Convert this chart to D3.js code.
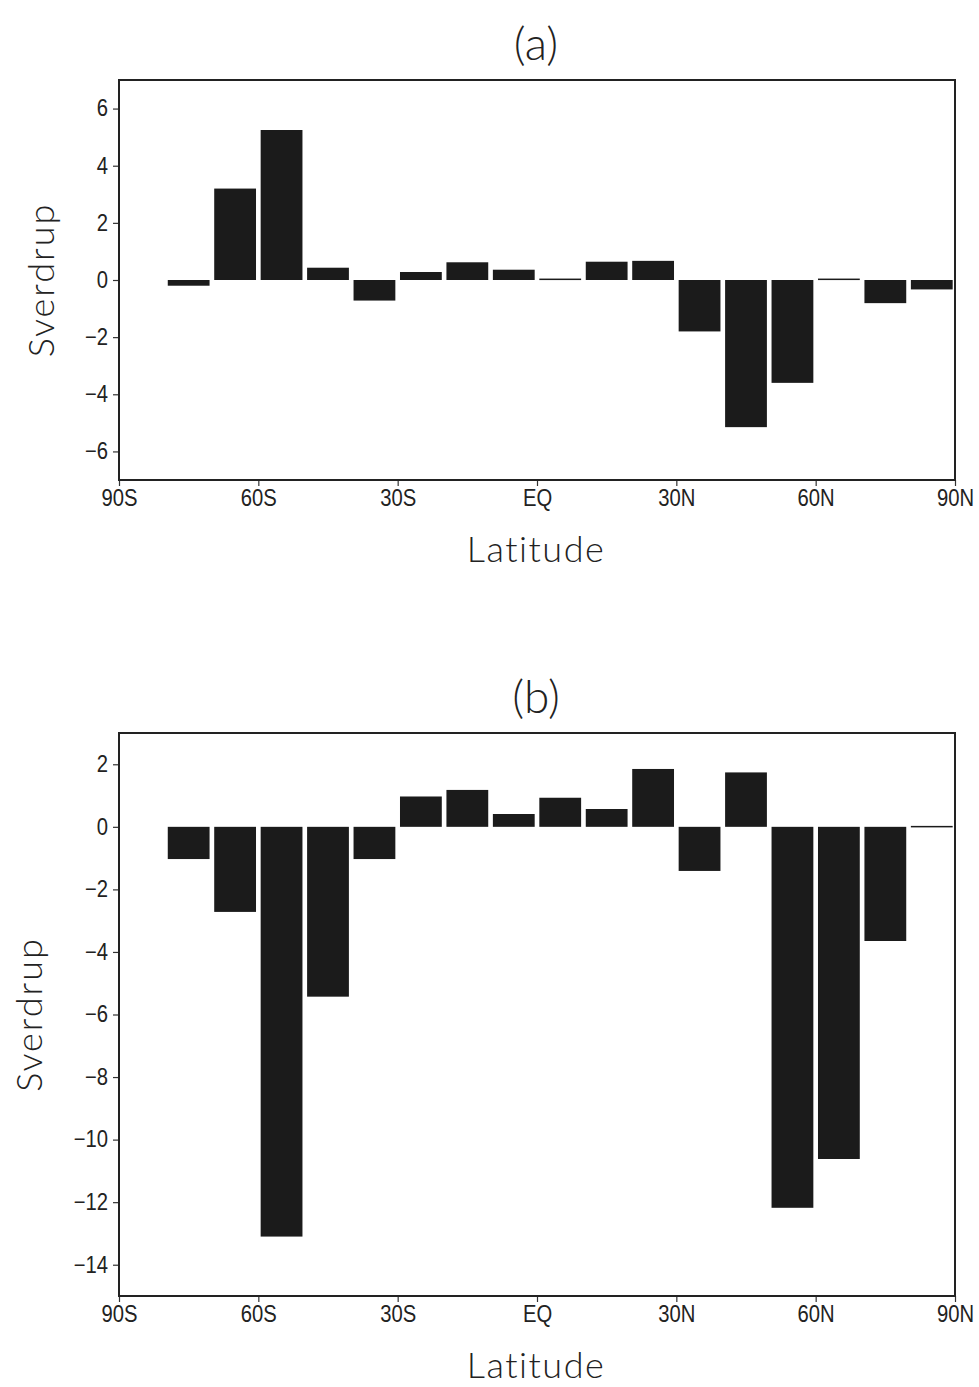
<!DOCTYPE html>
<html>
<head>
<meta charset="utf-8">
<script src="https://cdn.jsdelivr.net/npm/d3@7"></script>
<style>
  html, body { margin: 0; padding: 0; background: #fff; }
  .tick text { font-family: "Liberation Sans", Arial, sans-serif; }
  .ttl { font-family: Lato, "DejaVu Sans", sans-serif; font-weight: 300; fill: #222; }
</style>
</head>
<body>
<svg id="chart" width="979" height="1387"></svg>
<script>
// Latitude band centres (degrees, south negative)
const latitudes = [-75, -65, -55, -45, -35, -25, -15, -5, 5, 15, 25, 35, 45, 55, 65, 75, 85];

// Zonal transport per band, Sverdrup
const valuesA = [-0.2, 3.2, 5.25, 0.43, -0.72, 0.28, 0.62, 0.36, 0.05, 0.64, 0.67, -1.8, -5.15, -3.6, 0.05, -0.81, -0.33];
const valuesB = [-1.03, -2.72, -13.1, -5.43, -1.03, 0.97, 1.18, 0.41, 0.93, 0.57, 1.85, -1.41, 1.74, -12.18, -10.62, -3.65, 0.03];

// Axis ticks
const xTickValues = [-90, -60, -30, 0, 30, 60, 90];
const xTickLabels = ["90S", "60S", "30S", "EQ", "30N", "60N", "90N"];
const yTicksA = [-6, -4, -2, 0, 2, 4, 6];
const yTicksB = [-14, -12, -10, -8, -6, -4, -2, 0, 2];

const svg = d3.select("#chart");
const left = 119, right = 955;
const bandWidth = 10;    // degrees per bar
const barFrac = 0.9;     // share of band filled by bar
const narrow = 0.88;     // horizontal squeeze for tick labels

const x = d3.scaleLinear().domain([-90, 90]).range([left, right]);

function squeeze(sel) {
  sel.each(function () {
    const t = d3.select(this);
    const tx = +t.attr("x") || 0;
    t.attr("x", tx / narrow).attr("transform", `scale(${narrow},1)`);
  });
}

function panel(opts) {
  const { top, bottom, yDomain, yTicks, values, title, ylabelX } = opts;
  const y = d3.scaleLinear().domain(yDomain).range([bottom, top]);
  const g = svg.append("g");

  // bars
  g.selectAll("rect.bar")
    .data(latitudes.map((lat, i) => ({ lat, v: values[i] })))
    .join("rect")
    .attr("class", "bar")
    .attr("x", d => x(d.lat - bandWidth * barFrac / 2))
    .attr("width", d => x(d.lat + bandWidth * barFrac / 2) - x(d.lat - bandWidth * barFrac / 2))
    .attr("y", d => Math.min(y(d.v), y(0)))
    .attr("height", d => Math.max(1.5, Math.abs(y(d.v) - y(0))))
    .attr("fill", "#1b1b1b");

  // axes
  const xAxis = d3.axisBottom(x)
    .tickValues(xTickValues)
    .tickFormat((d, i) => xTickLabels[i])
    .tickSize(6).tickPadding(4);
  const gx = g.append("g").attr("transform", `translate(0,${bottom})`).call(xAxis);
  gx.select(".domain").remove();
  gx.selectAll("line").attr("stroke", "#333").attr("stroke-width", 1.2);
  gx.selectAll("text").attr("font-size", 23).attr("fill", "#222").call(squeeze);

  const yAxis = d3.axisLeft(y).tickValues(yTicks).tickSize(6).tickPadding(5)
    .tickFormat(d => d < 0 ? "\u2212" + Math.abs(d) : String(d));
  const gy = g.append("g").attr("transform", `translate(${left},0)`).call(yAxis);
  gy.select(".domain").remove();
  gy.selectAll("line").attr("stroke", "#333").attr("stroke-width", 1.2);
  gy.selectAll("text").attr("font-size", 23).attr("fill", "#222").call(squeeze);

  // frame
  g.append("rect")
    .attr("x", left).attr("y", top)
    .attr("width", right - left).attr("height", bottom - top)
    .attr("fill", "none").attr("stroke", "#222").attr("stroke-width", 2);

  // titles
  g.append("text").attr("class", "ttl")
    .attr("x", (left + right) / 2 - 1).attr("y", top - 20)
    .attr("text-anchor", "middle").attr("font-size", 46)
    .text(title);
  g.append("text").attr("class", "ttl")
    .attr("x", (left + right) / 2 - 1).attr("y", bottom + 82)
    .attr("text-anchor", "middle").attr("font-size", 36)
    .attr("letter-spacing", 1.5)
    .text("Latitude");
  g.append("text").attr("class", "ttl")
    .attr("transform", `translate(${ylabelX},${(top + bottom) / 2}) rotate(-90)`)
    .attr("text-anchor", "middle").attr("font-size", 36)
    .attr("letter-spacing", 2)
    .text("Sverdrup");
}

panel({ top: 80, bottom: 480, yDomain: [-7, 7], yTicks: yTicksA, values: valuesA, title: "(a)", ylabelX: 54 });
panel({ top: 733, bottom: 1296, yDomain: [-15, 3], yTicks: yTicksB, values: valuesB, title: "(b)", ylabelX: 42 });
</script>
</body>
</html>
